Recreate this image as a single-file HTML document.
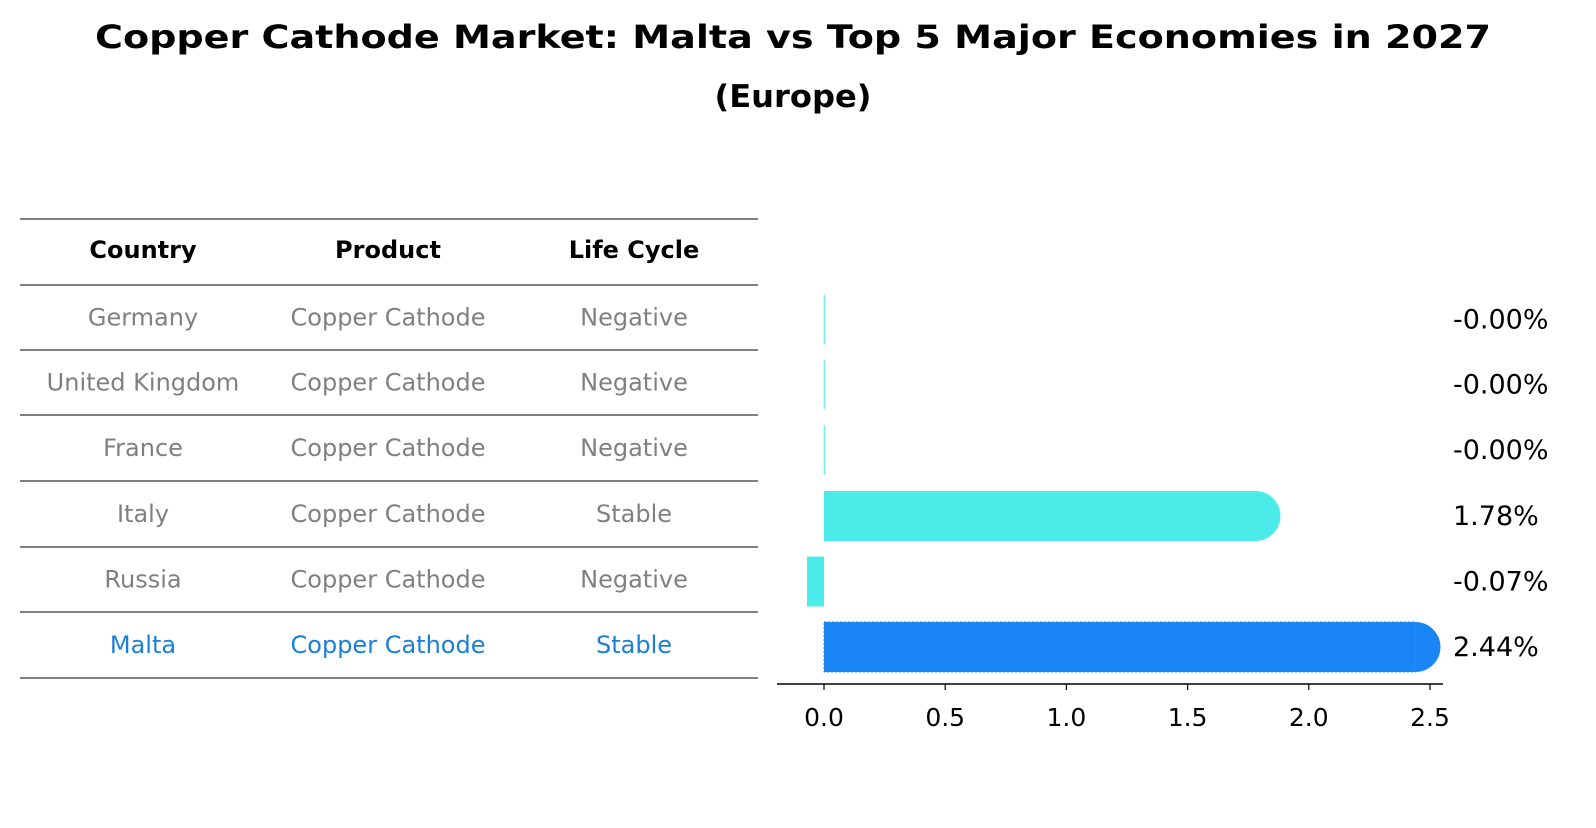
<!DOCTYPE html>
<html><head><meta charset="utf-8"><style>
body{margin:0;background:#fff;font-family:"Liberation Sans","DejaVu Sans",sans-serif}
svg text{font-family:"DejaVu Sans","Liberation Sans",sans-serif}
</style></head><body>
<svg id="c" width="1596" height="823" viewBox="0 0 1596 823" xmlns="http://www.w3.org/2000/svg">
<text x="793" y="48" text-anchor="middle" font-size="32" font-weight="bold" textLength="1396" lengthAdjust="spacingAndGlyphs">Copper Cathode Market: Malta vs Top 5 Major Economies in 2027</text>
<text x="793" y="107" text-anchor="middle" font-size="31" font-weight="bold" textLength="157" lengthAdjust="spacingAndGlyphs">(Europe)</text>
<g id="table"></g>
<g id="bars"></g>
</svg>
<script>
const countries=["Germany","United Kingdom","France","Italy","Russia","Malta"];
const products=["Copper Cathode","Copper Cathode","Copper Cathode","Copper Cathode","Copper Cathode","Copper Cathode"];
const lifeCycles=["Negative","Negative","Negative","Stable","Negative","Stable"];
const values=[-0.001,-0.001,-0.001,1.78,-0.07,2.44];
const valueLabels=["-0.00%","-0.00%","-0.00%","1.78%","-0.07%","2.44%"];
const ticks=[0,0.5,1.0,1.5,2.0,2.5];
const NS="http://www.w3.org/2000/svg";
function mk(p,t,a,txt){const e=document.createElementNS(NS,t);for(const k in a)e.setAttribute(k,a[k]);if(txt!==undefined)e.textContent=txt;p.appendChild(e);return e;}
const tb=document.getElementById('table');
const lineYs=[219,285,350,415,481,547,612,678];
const colX=[143,388,634];
lineYs.forEach((y,i)=>{const l=mk(tb,'line',{x1:20,x2:758,y1:y,y2:y,stroke:'#000','stroke-width':1});

});
["Country","Product","Life Cycle"].forEach((h,i)=>{const t=mk(tb,'text',{x:colX[i],y:258,'text-anchor':'middle','font-size':24,'font-weight':'bold'},h);

});
countries.forEach((c,r)=>{const y=(lineYs[r+1]+lineYs[r+2])/2+8;const col=r===5?'#1a7fd6':'#808080';
[c,products[r],lifeCycles[r]].forEach((v,i)=>{const t=mk(tb,'text',{x:colX[i],y:y,'text-anchor':'middle','font-size':24,fill:col},v);

});});
const bg=document.getElementById('bars');
const x0=824,sc=242.4;const X=v=>x0+v*sc;
const Y=i=>(lineYs[i+1]+lineYs[i+2])/2+2;
const bh=50;
values.forEach((v,i)=>{const col=i===5?'#1a85f5':'#4aebe8';const yc=Y(i);
const xa=Math.min(X(0),X(v)),w=Math.max(Math.abs(X(v)-X(0)),1);
const r=mk(bg,'rect',{x:xa,y:yc-bh/2,width:w,height:bh,fill:col});
if(i===5){r.setAttribute('stroke','#3a8fd8');r.setAttribute('stroke-dasharray','2,2');r.setAttribute('stroke-width','1');}


if(v>0.5){const cp=mk(bg,'path',{d:`M${X(v)} ${yc-bh/2} A${bh/2} ${bh/2} 0 0 1 ${X(v)} ${yc+bh/2} Z`,fill:col});

}
const t=mk(bg,'text',{x:1453,y:yc+9,'font-size':27},valueLabels[i]);

});
const ax=mk(bg,'line',{x1:777,x2:1443,y1:684,y2:684,stroke:'#000','stroke-width':1.5});


ticks.forEach(t=>{const l=mk(bg,'line',{x1:X(t),x2:X(t),y1:684,y2:690,stroke:'#000','stroke-width':1.2});


const tx=mk(bg,'text',{x:X(t),y:726,'text-anchor':'middle','font-size':25},t.toFixed(1));

});
</script>
</body></html>
